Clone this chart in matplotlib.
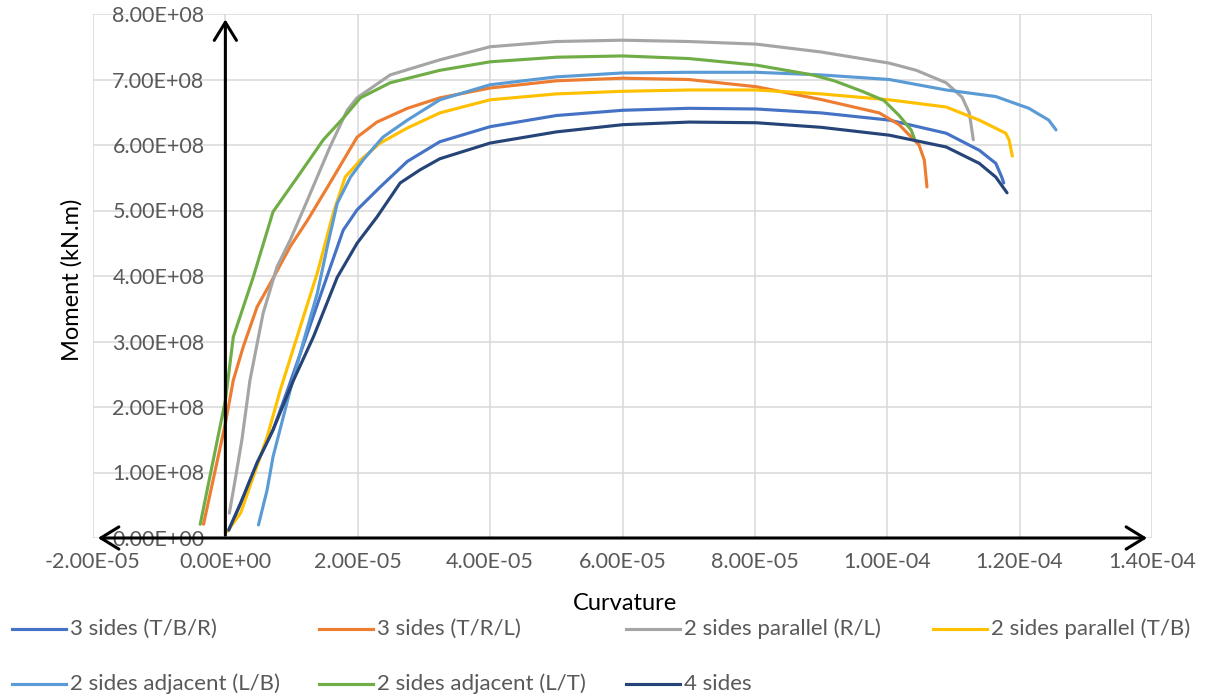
import numpy as np
import matplotlib
matplotlib.use("Agg")
import matplotlib.pyplot as plt
from matplotlib.lines import Line2D
from matplotlib.ticker import FuncFormatter, MultipleLocator

plt.rcParams['font.family'] = ['Lato', 'DejaVu Sans']

# curvature read in units of 1e-6, moment in units of 1e8 (kN.m)
k_tbr = [0.5, 2.3, 4.8, 7.2, 9.4, 12.4, 14.8, 17.8, 19.9, 23.4, 27.5, 32.4, 40, 50, 60, 70, 80.2, 90, 100.3, 108.9, 113.9, 116.4, 117.3, 117.6]
m_tbr = [0.12, 0.53, 1.15, 1.65, 2.26, 3.13, 3.83, 4.70, 5.01, 5.36, 5.75, 6.05, 6.28, 6.45, 6.53, 6.56, 6.55, 6.49, 6.38, 6.18, 5.92, 5.72, 5.51, 5.42]

k_trl = [-3.3, 0, 1.2, 2.7, 4.8, 6.8, 9.8, 12.4, 15.8, 19.9, 22.9, 27.5, 32.4, 40, 50, 60, 70, 80.2, 90.2, 98.8, 101.8, 104.8, 105.6, 106]
m_trl = [0.21, 1.75, 2.41, 2.92, 3.53, 3.89, 4.45, 4.85, 5.42, 6.12, 6.35, 6.56, 6.72, 6.87, 6.98, 7.02, 7.00, 6.89, 6.69, 6.49, 6.31, 6.00, 5.77, 5.36]

k_prl = [0.6, 1.5, 2.5, 3.7, 5.7, 7.8, 9.8, 12.4, 15.8, 18.4, 19.9, 24.9, 32.4, 40, 50, 60, 70, 80.2, 90, 100.3, 104.4, 108.9, 111.3, 112.4, 113]
m_prl = [0.38, 0.9, 1.5, 2.4, 3.43, 4.14, 4.55, 5.16, 5.97, 6.53, 6.72, 7.07, 7.30, 7.50, 7.58, 7.60, 7.58, 7.54, 7.42, 7.25, 7.14, 6.95, 6.73, 6.49, 6.08]

k_ptb = [0.3, 2.3, 4.2, 6.3, 8.3, 11.3, 13.9, 16.3, 18.1, 20.4, 23.4, 27.5, 32.4, 40, 50, 60, 70, 80.2, 90, 100.3, 108.9, 113.9, 117.9, 118.4, 118.9]
m_ptb = [0.10, 0.38, 0.93, 1.54, 2.26, 3.22, 4.05, 4.96, 5.51, 5.77, 6.03, 6.26, 6.49, 6.69, 6.78, 6.82, 6.84, 6.84, 6.78, 6.69, 6.58, 6.38, 6.18, 6.08, 5.83]

k_alb = [5.0, 6.3, 7.2, 9.8, 11.8, 13.9, 15.4, 16.9, 18.9, 20.8, 23.8, 27.5, 32.4, 40, 50, 60, 70, 80.2, 90, 100.3, 108.9, 116.4, 121.4, 124.4, 125.5]
m_alb = [0.20, 0.73, 1.24, 2.26, 3.00, 3.74, 4.45, 5.11, 5.51, 5.77, 6.12, 6.38, 6.69, 6.92, 7.04, 7.10, 7.11, 7.11, 7.07, 7.00, 6.84, 6.74, 6.56, 6.38, 6.23]

k_alt = [-3.8, 0, 1.2, 4.2, 7.2, 11.3, 14.8, 17.8, 20.4, 24.9, 32.4, 40, 50, 60, 70, 80.2, 88.7, 92, 96.2, 99.5, 101.8, 103.6, 104.1]
m_alt = [0.21, 2.1, 3.07, 3.98, 4.98, 5.57, 6.08, 6.41, 6.72, 6.95, 7.14, 7.27, 7.34, 7.36, 7.32, 7.22, 7.07, 6.98, 6.82, 6.68, 6.45, 6.23, 6.10]

k_4s = [0.5, 2.3, 4.8, 7.2, 10.3, 13.3, 16.9, 19.9, 22.9, 26.4, 29.4, 32.4, 40, 50, 60, 70.1, 80.2, 90, 100.3, 108.9, 113.9, 116.4, 118.1]
m_4s = [0.12, 0.53, 1.15, 1.65, 2.41, 3.07, 3.98, 4.50, 4.90, 5.42, 5.62, 5.79, 6.03, 6.20, 6.31, 6.35, 6.34, 6.27, 6.15, 5.97, 5.72, 5.51, 5.27]

labels = ["3 sides (T/B/R)", "3 sides (T/R/L)", "2 sides parallel (R/L)", "2 sides parallel (T/B)",
          "2 sides adjacent (L/B)", "2 sides adjacent (L/T)", "4 sides"]
colors = ["#4472C4", "#ED7D31", "#A5A5A5", "#FFC000", "#5B9BD5", "#70AD47", "#264478"]
curv = [k_tbr, k_trl, k_prl, k_ptb, k_alb, k_alt, k_4s]
moment = [m_tbr, m_trl, m_prl, m_ptb, m_alb, m_alt, m_4s]

fig = plt.figure(figsize=(12.06, 7.0), dpi=100)
ax = fig.add_axes([93 / 1206, 162 / 700, 1059 / 1206, 524 / 700])

for k, m, c in zip(curv, moment, colors):
    ax.plot(np.array(k) * 1e-6, np.array(m) * 1e8, color=c, lw=2.25, solid_capstyle='round',
            solid_joinstyle='round', zorder=3)

ax.set_xlim(-2e-5, 1.4e-4)
ax.set_ylim(0, 8e8)
ax.xaxis.set_major_locator(MultipleLocator(2e-5))
ax.yaxis.set_major_locator(MultipleLocator(1e8))
fmt = FuncFormatter(lambda v, p: f"{v:.2E}")
ax.xaxis.set_major_formatter(fmt)
ax.yaxis.set_major_formatter(fmt)

ax.spines['left'].set_position(('data', 0))
ax.spines['bottom'].set_position(('data', 0))
for s in ax.spines.values():
    s.set_visible(False)
ax.tick_params(axis='both', length=0, labelsize=15.5, colors='#595959')
ax.tick_params(axis='y', pad=15)
ax.tick_params(axis='x', pad=10)
ax.grid(True, color='#D9D9D9', lw=1.1, zorder=0)
ax.set_axisbelow(True)

# axis arrows
arrow = dict(arrowstyle='->,head_length=0.65,head_width=0.4', color='black', lw=2.2, mutation_scale=20)
ax.annotate('', xy=(0, 0.995), xytext=(0, 0), xycoords=('data', 'axes fraction'),
            textcoords=('data', 'axes fraction'), arrowprops=arrow, zorder=5, annotation_clip=False)
arrow2 = dict(arrowstyle='<->,head_length=0.65,head_width=0.4', color='black', lw=2.2, mutation_scale=20)
ax.annotate('', xy=(0.998, 0), xytext=(0.002, 0), xycoords=('axes fraction', 'data'),
            textcoords=('axes fraction', 'data'), arrowprops=arrow2, zorder=5, annotation_clip=False)

fig.text(72 / 1206, 1 - 280 / 700, "Moment (kN.m)", rotation=90, ha='center', va='center', fontsize=17, color='black')
fig.text(625 / 1206, 1 - 603 / 700, "Curvature", ha='center', va='center', fontsize=17, color='black')

# legend drawn by hand to match spacing
for i, (lab, c) in enumerate(zip(labels, colors)):
    col, row = i % 4, i // 4
    x0 = (12 + col * 307) / 1206
    y0 = 1 - (629 + row * 55) / 700
    fig.add_artist(Line2D([x0, x0 + 54 / 1206], [y0, y0], color=c, lw=2.25, transform=fig.transFigure))
    fig.text(x0 + 58 / 1206, y0, lab, ha='left', va='center', fontsize=16, color='#595959')

fig.savefig("out.png", dpi=100)
